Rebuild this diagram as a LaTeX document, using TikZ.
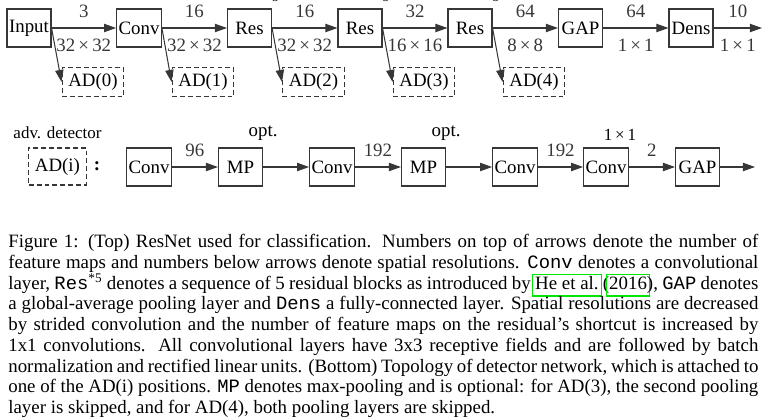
\documentclass[tikz,border=0pt]{standalone}
\usepackage{fontspec}
\setmainfont{Liberation Serif}
\setmonofont{Liberation Mono}
\usepackage{xcolor}
\usetikzlibrary{arrows.meta,positioning,calc}
\definecolor{dgray}{RGB}{55,55,55}
\definecolor{citegreen}{RGB}{0,230,0}
\newsavebox\citesave
\newcommand\citelink[1]{\sbox\citesave{#1}\makebox[\wd\citesave]{\color{citegreen}\setlength\fboxsep{0pt}\setlength\fboxrule{0.6pt}\fbox{\hspace{1.2pt}\color{black}\strut#1\hspace{1.2pt}}}}

\begin{document}
\begin{tikzpicture}[x=.53pt,y=-.53pt,>={Triangle[length=6.4pt,width=4.4pt]},
  every node/.style={font=\fontsize{10}{12}\selectfont},
  blk/.style={draw=dgray,line width=.6pt,inner sep=1pt,minimum width=23.3pt,minimum height=20.1pt},
  adbox/.style={draw=dgray,line width=.6pt,dash pattern=on 2.6pt off 1.6pt},
  corner/.style={anchor=south},
  conn/.style={->,dgray,line width=.55pt}]
\useasboundingbox (0,0) rectangle (770,419);
\node[blk] (input) at (29,28) {Input};
\node[blk] (conv) at (139,28) {Conv};
\node[blk] (res1) at (249.5,28) {Res};
\node[blk] (res2) at (360,28) {Res};
\node[blk] (res3) at (470,28) {Res};
\node[blk] (gap) at (580.5,28) {GAP};
\node[blk] (dens) at (691,28) {Dens};
\coordinate (out) at (762,28);
\node[corner,font=\fontsize{7}{8}\selectfont] at (res1.north east) {*5};
\node[corner,font=\fontsize{7}{8}\selectfont] at (res2.north east) {*5};
\node[corner,font=\fontsize{7}{8}\selectfont] at (res3.north east) {*5};
\draw[conn] (input) -- node[above=2pt]{3} node[below=2pt]{32\,×\,32} (conv);
\draw[conn] (conv) -- node[above=2pt]{16} node[below=2pt]{32\,×\,32} (res1);
\draw[conn] (res1) -- node[above=2pt]{16} node[below=2pt]{32\,×\,32} (res2);
\draw[conn] (res2) -- node[above=2pt]{32} node[below=2pt]{16\,×\,16} (res3);
\draw[conn] (res3) -- node[above=2pt]{64} node[below=2pt]{8\,×\,8} (gap);
\draw[conn] (gap) -- node[above=2pt]{64} node[below=2pt]{1\,×\,1} (dens);
\draw[conn] (dens) -- node[above=2pt]{10} node[below=2pt]{1\,×\,1} (out);
\node[adbox] (ad0) at (93,82) {AD(0)};
\node[adbox] (ad1) at (203,82) {AD(1)};
\node[adbox] (ad2) at (313.5,82) {AD(2)};
\node[adbox] (ad3) at (424,82) {AD(3)};
\node[adbox] (ad4) at (534,82) {AD(4)};
\draw[conn] (input.east) -- (ad0.west);
\draw[conn] (conv.east) -- (ad1.west);
\draw[conn] (res1.east) -- (ad2.west);
\draw[conn] (res2.east) -- (ad3.west);
\draw[conn] (res3.east) -- (ad4.west);

\node[adbox,minimum height=19.6pt] (adi) at (57.5,166.5) {AD(i)};
\node[above=1pt of adi,font=\fontsize{9}{11}\selectfont] (advlbl) {adv. detector};
\node (colon) at (97,166) {\textbf{:}};
\node[blk] (c1) at (149,167) {Conv};
\node[blk] (mp1) at (240.5,167) {MP};
\node[blk] (c2) at (332,167) {Conv};
\node[blk] (mp2) at (423.5,167) {MP};
\node[blk] (c3) at (515,167) {Conv};
\node[blk] (c4) at (606,167) {Conv};
\node[blk] (gap2) at (697.5,167) {GAP};
\coordinate (out2) at (755,167);
\node[corner] at (mp1.north east) {opt.};
\node[corner] at (mp2.north east) {opt.};
\node[corner,font=\fontsize{9}{11}\selectfont] at ($(c4.north)+(14,0)$) {1\,×\,1};
\draw[conn] (c1) -- node[above=2pt]{96} (mp1);
\draw[conn] (mp1) -- (c2);
\draw[conn] (c2) -- node[above=2pt]{192} (mp2);
\draw[conn] (mp2) -- (c3);
\draw[conn] (c3) -- node[above=2pt]{192} (c4);
\draw[conn] (c4) -- node[above=2pt]{2} (gap2);
\draw[conn] (gap2) -- (out2);

\node[anchor=north west,inner sep=0pt,text width=397.5pt,align=justify,font=\fontsize{10}{11}\selectfont] (caption) at (8,234) {Figure 1: (Top) ResNet used for classification. Numbers on top of arrows denote the number of\linebreak
feature maps and numbers below arrows denote spatial resolutions. \texttt{Conv} denotes a convolutional\linebreak
layer, \texttt{Res}\textsuperscript{*5} denotes a sequence of 5 residual blocks as introduced by \citelink{He et al.} (\citelink{2016}), \texttt{GAP} denotes\linebreak
a global-average pooling layer and \texttt{Dens} a fully-connected layer. Spatial resolutions are decreased\linebreak
by strided convolution and the number of feature maps on the residual's shortcut is increased by\linebreak
1x1 convolutions. All convolutional layers have 3x3 receptive fields and are followed by batch\linebreak
normalization and rectified linear units. (Bottom) Topology of detector network, which is attached to\linebreak
one of the AD(i) positions. \texttt{MP} denotes max-pooling and is optional: for AD(3), the second pooling\linebreak
layer is skipped, and for AD(4), both pooling layers are skipped.};
\end{tikzpicture}
\end{document}
